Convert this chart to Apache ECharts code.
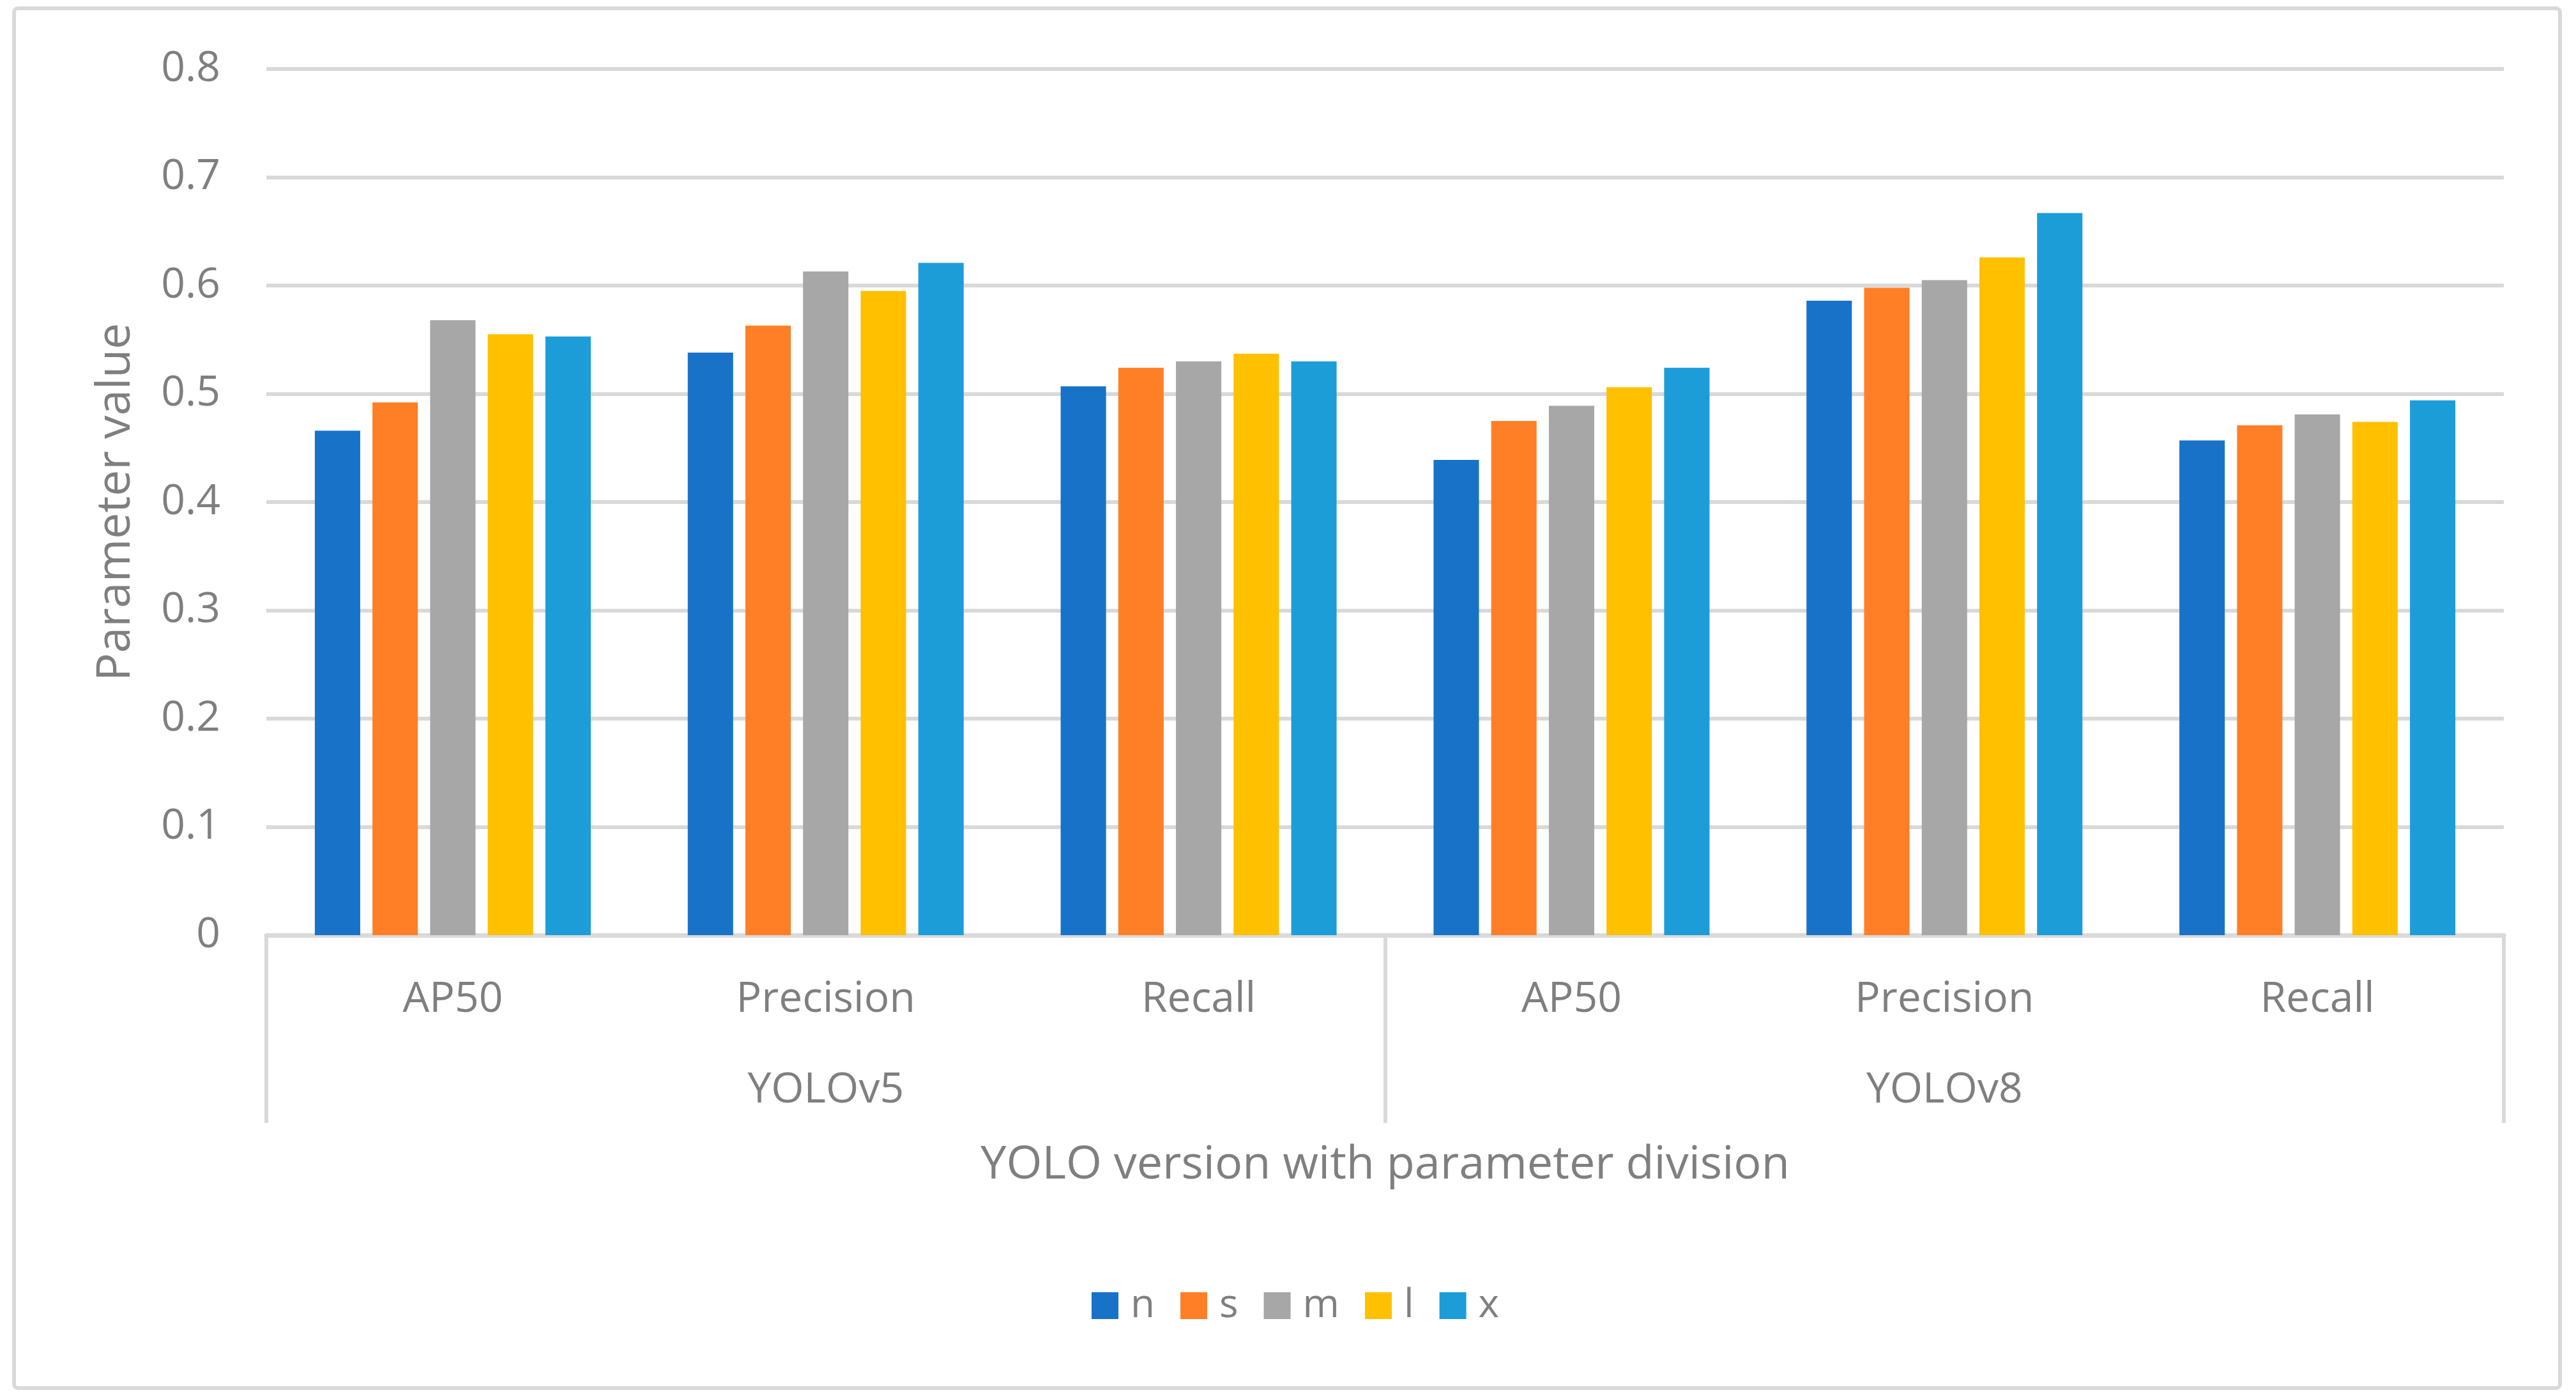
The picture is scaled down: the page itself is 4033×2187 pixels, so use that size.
<!DOCTYPE html>
<html>
<head>
<meta charset="utf-8">
<script src="https://cdn.jsdelivr.net/npm/echarts@6/dist/echarts.min.js"></script>
<style>
html,body{margin:0;padding:0;background:#fff;}
#c{width:4033px;height:2187px;}
</style>
</head>
<body>
<div id="c"></div>
<script>
var metrics = ['AP50', 'Precision', 'Recall', 'AP50', 'Precision', 'Recall'];
var versions = ['YOLOv5', 'YOLOv8'];
var seriesNames = ['n', 's', 'm', 'l', 'x'];
var nVals = [0.466, 0.538, 0.507, 0.439, 0.586, 0.457];
var sVals = [0.492, 0.563, 0.524, 0.475, 0.598, 0.471];
var mVals = [0.568, 0.613, 0.530, 0.489, 0.605, 0.481];
var lVals = [0.555, 0.595, 0.537, 0.506, 0.626, 0.474];
var xVals = [0.553, 0.621, 0.530, 0.524, 0.667, 0.494];
var yTicks = {min: 0, max: 0.8, interval: 0.1};

var colors = ['#1873C8', '#FF7F27', '#A7A7A7', '#FFC000', '#1D9DD8'];
var valueSets = [nVals, sVals, mVals, lVals, xVals];
var FONT = '"Open Sans", "Noto Sans", sans-serif';
var TXT = '#7f7f7f';
var LINE = '#d9d9d9';

var chart = echarts.init(document.getElementById('c'), null, {renderer: 'canvas'});
var series = seriesNames.map(function (nm, i) {
  return {
    name: nm,
    type: 'bar',
    data: valueSets[i],
    barGap: '27%',
    barCategoryGap: '26%',
    itemStyle: {color: colors[i]},
    xAxisIndex: 0
  };
});

chart.setOption({
  backgroundColor: '#ffffff',
  animation: false,
  color: colors,
  textStyle: {fontFamily: FONT},
  graphic: [{
    type: 'rect',
    shape: {x: 22, y: 13, width: 3986, height: 2160, r: 6},
    style: {fill: 'none', stroke: LINE, lineWidth: 6},
    silent: true,
    z: -10
  }],
  grid: {left: 417, right: 113, top: 108, bottom: 723, containLabel: false},
  legend: {
    data: seriesNames,
    left: 1704,
    top: 2008,
    icon: 'rect',
    itemWidth: 42,
    itemHeight: 42,
    itemGap: 40,
    textStyle: {color: TXT, fontSize: 62, fontFamily: FONT, padding: [0, 0, 0, 14], lineHeight: 52}
  },
  xAxis: [{
    type: 'category',
    data: metrics,
    position: 'bottom',
    axisLine: {show: true, lineStyle: {color: LINE, width: 7}},
    axisTick: {show: false},
    axisLabel: {color: TXT, fontSize: 66, fontFamily: FONT, margin: 68, lineHeight: 66, interval: 0},
    splitLine: {show: false},
    name: 'YOLO version with parameter division',
    nameLocation: 'middle',
    nameGap: 324,
    nameTextStyle: {color: TXT, fontSize: 72, fontFamily: FONT, lineHeight: 72}
  }, {
    type: 'category',
    data: versions,
    position: 'bottom',
    offset: 0,
    axisLine: {show: false},
    axisTick: {show: true, length: 294, lineStyle: {color: LINE, width: 6}, alignWithLabel: false, interval: 0},
    axisLabel: {color: TXT, fontSize: 66, fontFamily: FONT, margin: 210, lineHeight: 66, interval: 0},
    splitLine: {show: false}
  }],
  yAxis: {
    type: 'value',
    min: yTicks.min,
    max: yTicks.max,
    interval: yTicks.interval,
    axisLine: {show: false},
    axisTick: {show: false},
    axisLabel: {color: TXT, fontSize: 66, fontFamily: FONT, margin: 72},
    splitLine: {show: true, lineStyle: {color: LINE, width: 6}},
    name: 'Parameter value',
    nameLocation: 'middle',
    nameGap: 198,
    nameRotate: 90,
    nameTextStyle: {color: TXT, fontSize: 73, fontFamily: FONT}
  },
  series: series
});
</script>
</body>
</html>
